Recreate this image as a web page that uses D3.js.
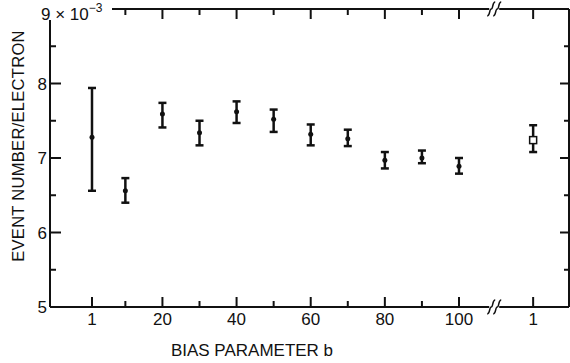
<!DOCTYPE html>
<html>
<head>
<meta charset="utf-8">
<script src="https://cdn.jsdelivr.net/npm/d3@7"></script>
<style>
  body { margin: 0; background: #fff; }
  text { font-family: "Liberation Sans", Arial, sans-serif; fill: #111; }
</style>
</head>
<body>
<script>
// data (units of 10^-3)
var bias = [1, 10, 20, 30, 40, 50, 60, 70, 80, 90, 100];
var rate = [7.28, 6.56, 7.59, 7.34, 7.62, 7.52, 7.32, 7.26, 6.97, 7.00, 6.89];
var rateLo = [6.56, 6.40, 7.41, 7.17, 7.47, 7.35, 7.17, 7.16, 6.86, 6.93, 6.79];
var rateHi = [7.94, 6.73, 7.74, 7.50, 7.76, 7.65, 7.45, 7.38, 7.08, 7.10, 7.00];

// separate point past the axis break (open square)
var extra = {label: "1", value: 7.24, lo: 7.08, hi: 7.44};

var xMajor = [20, 40, 60, 80, 100];
var xMinor = [10, 30, 50, 70, 90];
var yMajor = [5, 6, 7, 8, 9];
var yMinor = [5.5, 6.5, 7.5, 8.5];

window.onload = drawChart();

function drawChart(){

    var width = 570,
        height = 363;

    var left = 50, right = 569, top = 9, bottom = 307;

    var svg = d3.select("body")
      .append("svg")
      .attr("width", width)
      .attr("height", height);

    // b = 1 .. 100 linear, the extra point sits after the break
    var x = d3.scaleLinear()
      .domain([1, 100])
      .range([92, 459]);

    var y = d3.scaleLinear()
      .domain([5, 9])
      .range([bottom, top]);

    var breakX = x(109.5),
        extraX = x(120);

    var frame = svg.append("g")
      .attr("stroke", "#111")
      .attr("stroke-width", 2)
      .attr("fill", "none");

    // horizontal lines with a gap at the break
    [top, bottom].forEach(function(yy){
        frame.append("line").attr("x1", left).attr("x2", breakX - 5).attr("y1", yy).attr("y2", yy);
        frame.append("line").attr("x1", breakX + 5).attr("x2", right).attr("y1", yy).attr("y2", yy);
        // break squiggles
        [-3, 3].forEach(function(dx){
            frame.append("path")
              .attr("stroke-width", 1.5)
              .attr("d", "M" + (breakX + dx - 4) + "," + (yy + 7) +
                   " C" + (breakX + dx - 1) + "," + (yy + 7) + " " + (breakX + dx - 2) + "," + (yy) + " " + (breakX + dx) + "," + yy +
                   " S" + (breakX + dx + 1) + "," + (yy - 7) + " " + (breakX + dx + 4) + "," + (yy - 7));
        });
    });
    frame.append("line").attr("x1", left).attr("x2", left).attr("y1", top).attr("y2", bottom);
    frame.append("line").attr("x1", right).attr("x2", right).attr("y1", top).attr("y2", bottom);

    // x ticks, bottom (up) and top (down)
    var xTicks = xMajor.map(function(d){ return {x: x(d), len: 10}; })
      .concat(xMinor.map(function(d){ return {x: x(d), len: 6}; }))
      .concat([{x: x(1), len: 10}, {x: extraX, len: 10}]);

    xTicks.forEach(function(t){
        frame.append("line").attr("x1", t.x).attr("x2", t.x).attr("y1", bottom).attr("y2", bottom - t.len);
        frame.append("line").attr("x1", t.x).attr("x2", t.x).attr("y1", top).attr("y2", top + t.len);
    });

    // y ticks, left and right (inward)
    yMajor.slice(1, 4).forEach(function(d){
        frame.append("line").attr("x1", left).attr("x2", left + 11).attr("y1", y(d)).attr("y2", y(d));
        frame.append("line").attr("x1", right).attr("x2", right - 9).attr("y1", y(d)).attr("y2", y(d));
    });
    yMinor.forEach(function(d){
        frame.append("line").attr("x1", left).attr("x2", left + 6).attr("y1", y(d)).attr("y2", y(d));
        frame.append("line").attr("x1", right).attr("x2", right - 5).attr("y1", y(d)).attr("y2", y(d));
    });

    // blank the top-left corner behind the scale label
    svg.append("rect")
      .attr("x", 38).attr("y", 0)
      .attr("width", 74).attr("height", 20)
      .attr("fill", "#fff");

    // y tick labels
    svg.selectAll(".ylab")
      .data(yMajor.slice(0, 4))
      .enter()
      .append("text")
      .attr("class", "ylab")
      .attr("x", 47)
      .attr("y", function(d){ return y(d); })
      .attr("dy", "0.36em")
      .attr("text-anchor", "end")
      .attr("font-size", 17)
      .text(function(d){ return d; });

    var scaleLab = svg.append("text")
      .attr("x", 41)
      .attr("y", 20)
      .attr("font-size", 17);
    scaleLab.append("tspan").text("9 \u00d7 10");
    scaleLab.append("tspan").attr("dy", -8).attr("font-size", 12).text("\u22123");

    // x tick labels
    var xLabels = xMajor.map(function(d){ return {x: x(d), t: String(d)}; })
      .concat([{x: x(1), t: "1"}, {x: extraX, t: extra.label}]);

    svg.selectAll(".xlab")
      .data(xLabels)
      .enter()
      .append("text")
      .attr("class", "xlab")
      .attr("x", function(d){ return d.x; })
      .attr("y", 325)
      .attr("text-anchor", "middle")
      .attr("font-size", 17)
      .text(function(d){ return d.t; });

    // axis titles
    svg.append("text")
      .attr("x", 252)
      .attr("y", 356)
      .attr("text-anchor", "middle")
      .attr("font-size", 17)
      .text("BIAS PARAMETER b");

    svg.append("text")
      .attr("transform", "translate(24,146) rotate(-90)")
      .attr("text-anchor", "middle")
      .attr("font-size", 16.5)
      .attr("letter-spacing", 0.3)
      .text("EVENT NUMBER/ELECTRON");

    // error bars
    var pts = svg.append("g")
      .attr("stroke", "#111")
      .attr("stroke-width", 2.5);

    bias.forEach(function(b, i){
        var cx = x(b);
        pts.append("line").attr("x1", cx).attr("x2", cx).attr("y1", y(rateLo[i])).attr("y2", y(rateHi[i]));
        pts.append("line").attr("x1", cx - 4).attr("x2", cx + 4).attr("y1", y(rateLo[i])).attr("y2", y(rateLo[i]));
        pts.append("line").attr("x1", cx - 4).attr("x2", cx + 4).attr("y1", y(rateHi[i])).attr("y2", y(rateHi[i]));
        pts.append("circle").attr("cx", cx).attr("cy", y(rate[i])).attr("r", 2.5).attr("fill", "#111").attr("stroke", "none");
    });

    // the open-square point
    pts.append("line").attr("x1", extraX).attr("x2", extraX).attr("y1", y(extra.lo)).attr("y2", y(extra.hi));
    pts.append("line").attr("x1", extraX - 4).attr("x2", extraX + 4).attr("y1", y(extra.lo)).attr("y2", y(extra.lo));
    pts.append("line").attr("x1", extraX - 4).attr("x2", extraX + 4).attr("y1", y(extra.hi)).attr("y2", y(extra.hi));
    pts.append("rect")
      .attr("x", extraX - 3.5).attr("y", y(extra.value) - 3.5)
      .attr("width", 7).attr("height", 7)
      .attr("fill", "#fff")
      .attr("stroke-width", 1.5);
}
</script>
</body>
</html>
